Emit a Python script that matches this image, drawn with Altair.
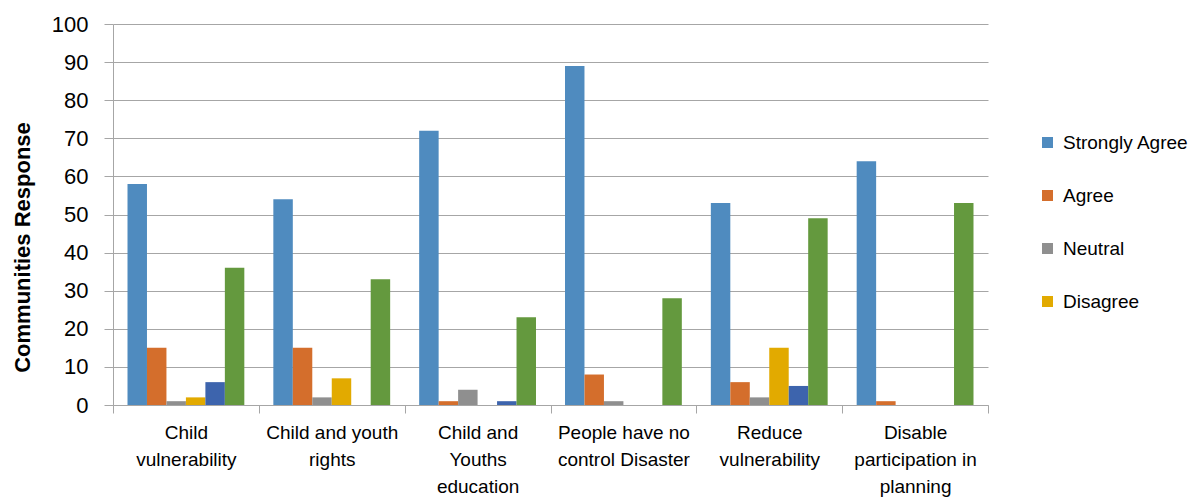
import altair as alt
import pandas as pd

# Survey statements (line breaks marked with "|")
categories = [
    "Child|vulnerability",
    "Child and youth|rights",
    "Child and|Youths|education",
    "People have no|control Disaster",
    "Reduce|vulnerability",
    "Disable|participation in|planning",
]
series = ["Strongly Agree", "Agree", "Neutral", "Disagree", "Strongly Disagree", "No Response"]
legend_shown = ["Strongly Agree", "Agree", "Neutral", "Disagree"]

strongly_agree = [58, 54, 72, 89, 53, 64]
agree = [15, 15, 1, 8, 6, 1]
neutral = [1, 2, 4, 1, 2, 0]
disagree = [2, 7, 0, 0, 15, 0]
strongly_disagree = [6, 0, 1, 0, 5, 0]
no_response = [36, 33, 23, 28, 49, 53]

colors = ["#4f8bbf", "#d46e2c", "#8f8f8f", "#e2aa00", "#3d64ad", "#64993e"]

values = [strongly_agree, agree, neutral, disagree, strongly_disagree, no_response]
rows = []
for s, vals in zip(series, values):
    for c, v in zip(categories, vals):
        rows.append({"Statement": c, "Response": s, "Count": v})
df = pd.DataFrame(rows)

FONT = "Liberation Sans"

chart = alt.Chart(df).mark_bar().encode(
    x=alt.X(
        "Statement:N",
        sort=categories,
        scale=alt.Scale(paddingInner=0, paddingOuter=0),
        axis=alt.Axis(
            title=None,
            labelAngle=0,
            labelExpr="split(datum.label, '|')",
            labelFontSize=19,
            labelLineHeight=27,
            labelFont=FONT,
            labelColor="#000000",
            labelPadding=10,
            labelBaseline="top",
            tickBand="extent",
            tickSize=8,
            tickColor="#a6a6a6",
            domainColor="#a6a6a6",
            grid=False,
        ),
    ),
    xOffset=alt.XOffset(
        "Response:N",
        sort=series,
        scale=alt.Scale(paddingInner=0, paddingOuter=0.745),
    ),
    y=alt.Y(
        "Count:Q",
        scale=alt.Scale(domain=[0, 100], nice=False),
        axis=alt.Axis(
            title="Communities Response",
            titleFont=FONT,
            titleFontSize=22,
            titleFontWeight="bold",
            titleColor="#000000",
            titleAngle=270,
            titleX=-91,
            titleY=223,
            titleAlign="center",
            titleBaseline="middle",
            values=list(range(0, 101, 10)),
            labelFontSize=22,
            labelFont=FONT,
            labelColor="#000000",
            labelPadding=16,
            tickSize=9,
            tickColor="#a6a6a6",
            domainColor="#a6a6a6",
            gridColor="#a6a6a6",
            gridWidth=1,
        ),
    ),
    color=alt.Color(
        "Response:N",
        sort=series,
        scale=alt.Scale(domain=series, range=colors),
        legend=alt.Legend(
            title=None,
            values=legend_shown,
            orient="none",
            legendX=925,
            legendY=109,
            symbolType="square",
            symbolSize=121,
            symbolStrokeWidth=0,
            labelFontSize=19,
            labelFont=FONT,
            labelColor="#000000",
            rowPadding=33,
            labelOffset=6,
        ),
    ),
).properties(
    width=875,
    height=381,
    padding={"left": 113, "top": 24, "right": 212, "bottom": 93},
    autosize=alt.AutoSizeParams(type="none"),
).configure_view(stroke=None)

chart.save("out.html", embed_options={"renderer": "svg", "actions": False})
